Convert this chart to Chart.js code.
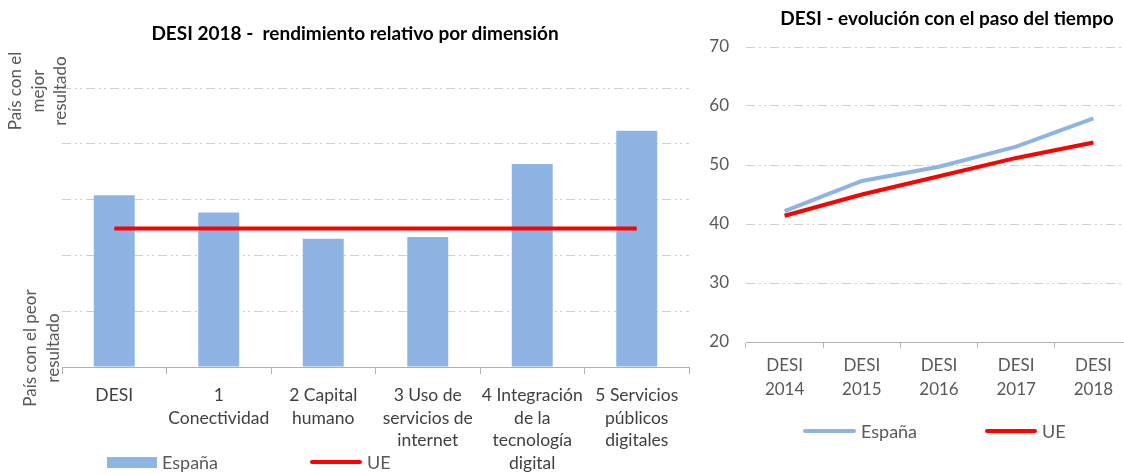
<!DOCTYPE html>
<html>
<head>
<meta charset="utf-8">
<script src="https://cdn.jsdelivr.net/npm/chart.js@4.4.1/dist/chart.umd.min.js"></script>
<style>
  html, body { margin: 0; padding: 0; width: 1124px; height: 474px; overflow: hidden; background: #fff; }
  #leftBox { position: absolute; left: 0; top: 0; width: 700px; height: 474px; }
  #rightBox { position: absolute; left: 680px; top: 0; width: 534px; height: 474px; }
  .title { position: absolute; width: 600px; height: 24px; line-height: 24px; text-align: center;
           font: bold 19px Lato, sans-serif; color: #000; white-space: pre; }
  .sw { position: absolute; }
  .lbl { position: absolute; height: 22px; line-height: 22px; font: 18px Lato, sans-serif; color: #595959; white-space: nowrap; }
</style>
</head>
<body>
<div id="leftBox"><canvas id="dimChart"></canvas></div>
<div id="rightBox"><canvas id="timeChart"></canvas></div>
<div class="title" style="left:55px; top:21px;">DESI 2018 -  rendimiento relativo por dimensión</div>
<div class="title" style="left:647px; top:6px;">DESI - evolución con el paso del tiempo</div>
<div id="legends"></div>
<script>
// --- data ---
const dimLabels = [
  ["DESI"],
  ["1", "Conectividad"],
  ["2 Capital", "humano"],
  ["3 Uso de", "servicios de", "internet"],
  ["4 Integración", "de la", "tecnología", "digital"],
  ["5 Servicios", "públicos", "digitales"]
];
const espanaDim = [61.6, 55.4, 46.0, 46.6, 72.8, 84.7];
const ueDim = [49.6, 49.6, 49.6, 49.6, 49.6, 49.6];

const years = [["DESI", "2014"], ["DESI", "2015"], ["DESI", "2016"], ["DESI", "2017"], ["DESI", "2018"]];
const espanaTime = [42.2, 47.3, 49.7, 53.1, 57.9];
const ueTime = [41.4, 45.0, 48.1, 51.2, 53.8];

const BLUE = "#8eb4e3";
const RED = "#ff0000";
const GRID = "#cfcfcf";
const AXIS = "#b0b0b0";

Chart.defaults.font.family = "Lato, 'Open Sans', sans-serif";
Chart.defaults.color = "#595959";
Chart.defaults.animation = false;

// rotated labels on the left side of the first chart
const sideLabels = {
  id: "sideLabels",
  afterDraw(chart) {
    const { ctx, chartArea } = chart;
    ctx.save();
    ctx.fillStyle = "#595959";
    ctx.font = "17px Lato, sans-serif";
    ctx.textAlign = "center";
    ctx.textBaseline = "middle";
    const groups = [
      { lines: ["País con el", "mejor", "resultado"], xs: [16, 39, 61], y: chartArea.top + 3 },
      { lines: ["País con el peor", "resultado"], xs: [31, 54], y: chartArea.bottom - 19 }
    ];
    groups.forEach(g => {
      g.lines.forEach((t, i) => {
        ctx.save();
        ctx.translate(g.xs[i], g.y);
        ctx.rotate(-Math.PI / 2);
        ctx.fillText(t, 0, 0);
        ctx.restore();
      });
    });
    ctx.restore();
  }
};

const dashGrid = {
  color: (c) => (c.tick && c.tick.value === c.scale.min ? "rgba(0,0,0,0)" : GRID),
  lineWidth: 1,
  drawTicks: false
};
const dashBorder = { display: false, dash: [9, 4, 2, 3, 2, 4] };

const dimChart = new Chart(document.getElementById("dimChart"), {
  type: "bar",
  data: {
    labels: dimLabels,
    datasets: [
      {
        type: "line",
        label: "UE",
        data: ueDim,
        borderColor: RED,
        backgroundColor: RED,
        borderWidth: 4,
        pointRadius: 0,
        order: 1
      },
      {
        label: "España",
        data: espanaDim,
        backgroundColor: BLUE,
        barPercentage: 0.8,
        categoryPercentage: 0.49,
        order: 2
      }
    ]
  },
  options: {
    responsive: true,
    maintainAspectRatio: false,
    layout: { padding: { left: 0, right: 11, top: 88, bottom: 0 } },
    plugins: {
      legend: { display: false },
      tooltip: { enabled: false },
      title: { display: false }
    },
    scales: {
      x: {
        grid: { display: true, drawOnChartArea: false, drawTicks: true, tickLength: 7, color: AXIS, offset: true },
        border: { display: true, color: AXIS, width: 1 },
        ticks: { color: "#404040", font: { size: 17.5, lineHeight: 1.29 }, padding: 10, maxRotation: 0, autoSkip: false },
        afterFit(scale) { scale.height = 107; }
      },
      y: {
        min: 0,
        max: 100,
        ticks: { display: false, stepSize: 20 },
        grid: dashGrid,
        border: dashBorder,
        afterFit(scale) { scale.width = 62; }
      }
    }
  },
  plugins: [sideLabels]
});

const timeChart = new Chart(document.getElementById("timeChart"), {
  type: "line",
  data: {
    labels: years,
    datasets: [
      { label: "España", data: espanaTime, borderColor: BLUE, backgroundColor: BLUE, borderWidth: 4, pointRadius: 0, tension: 0 },
      { label: "UE", data: ueTime, borderColor: RED, backgroundColor: RED, borderWidth: 4, pointRadius: 0, tension: 0 }
    ]
  },
  options: {
    responsive: true,
    maintainAspectRatio: false,
    layout: { padding: { left: 0, right: 82, top: 47, bottom: 0 } },
    plugins: {
      legend: { display: false },
      tooltip: { enabled: false },
      title: { display: false }
    },
    scales: {
      x: {
        offset: true,
        grid: { display: true, drawOnChartArea: false, drawTicks: true, tickLength: 6, color: AXIS, offset: true },
        border: { display: true, color: AXIS, width: 1 },
        ticks: { color: "#595959", font: { size: 17, lineHeight: 1.45 }, padding: 5, maxRotation: 0, autoSkip: false },
        afterFit(scale) { scale.height = 474 - 342; }
      },
      y: {
        min: 20,
        max: 70,
        ticks: { stepSize: 10, color: "#595959", font: { size: 17 }, padding: 17 },
        grid: dashGrid,
        border: dashBorder,
        afterFit(scale) { scale.width = 66; }
      }
    }
  }
});

// HTML legends built from the chart datasets
function addLegend(chart, spots) {
  const host = document.getElementById("legends");
  chart.data.datasets.forEach(ds => {
    const s = spots[ds.label];
    const isLine = ds.type === "line" || chart.config.type === "line";
    const sw = document.createElement("div");
    sw.className = "sw";
    Object.assign(sw.style, {
      left: s.x + "px", top: (s.y - s.h / 2) + "px", width: s.w + "px", height: s.h + "px",
      background: isLine ? ds.borderColor : ds.backgroundColor,
      borderRadius: isLine ? "2px" : "0"
    });
    host.appendChild(sw);
    const lb = document.createElement("div");
    lb.className = "lbl";
    lb.textContent = ds.label;
    lb.style.left = (s.x + s.w + 5) + "px";
    lb.style.top = (s.y - 11) + "px";
    host.appendChild(lb);
  });
}
addLegend(dimChart, {
  "España": { x: 107, y: 462, w: 50, h: 11 },
  "UE": { x: 310, y: 462, w: 52, h: 4 }
});
addLegend(timeChart, {
  "España": { x: 803, y: 431, w: 53, h: 4 },
  "UE": { x: 985, y: 431, w: 52, h: 4 }
});
</script>
</body>
</html>
